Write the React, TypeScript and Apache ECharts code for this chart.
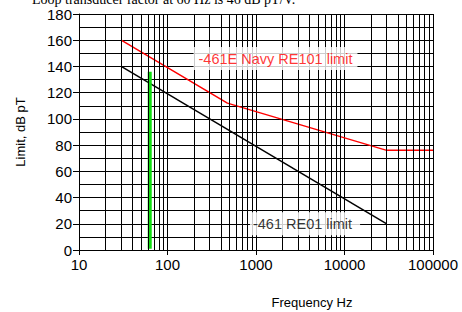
import React, { useEffect, useRef } from "react";
import * as echarts from "echarts";

const xTicks = [10, 100, 1000, 10000, 100000];
const yTicks = [0, 20, 40, 60, 80, 100, 120, 140, 160, 180];
const minorFreqs = [
  20, 30, 40, 50, 60, 70, 80, 90,
  200, 300, 400, 500, 600, 700, 800, 900,
  2000, 3000, 4000, 5000, 6000, 7000, 8000, 9000,
  20000, 30000, 40000, 50000, 60000, 70000, 80000, 90000,
];
const re01Freq = [30, 30000];
const re01Limit = [140, 20];
const re101Freq = [30, 475, 30000, 100000];
const re101Limit = [160, 112, 76, 76];
const markerFreq = [63, 63];
const markerLevel = [1, 136];
const labelTexts = ["-461E Navy RE101 limit", "-461 RE01 limit"];
const labelFreq = [1660, 3580];
const labelLevel = [146, 20];

export default function App() {
  const ref = useRef<HTMLDivElement>(null);
  useEffect(() => {
    document.body.style.margin = "0";
    const chart = echarts.init(ref.current!, null, { renderer: "svg" });
    const font = "Liberation Sans, Arial, sans-serif";
    chart.setOption({
      animation: false,
      backgroundColor: "#fff",
      grid: { left: 79, top: 14, width: 354, height: 236 },
      graphic: [
        {
          type: "text",
          left: 32,
          top: -8,
          style: {
            text: "Loop transducer factor at 60 Hz is 46 dB pT/V.",
            font: "14px 'Liberation Serif', serif",
            fill: "#000",
          },
        },
        {
          type: "text",
          x: 312,
          y: 302,
          style: {
            text: "Frequency Hz",
            font: "13px 'Liberation Sans', Arial, sans-serif",
            fill: "#000",
            align: "center",
            verticalAlign: "middle",
          },
        },
      ],
      xAxis: {
        type: "log",
        logBase: 10,
        min: xTicks[0],
        max: xTicks[xTicks.length - 1],
        axisLine: { lineStyle: { color: "#000", width: 1 } },
        axisTick: { show: true, length: 5, lineStyle: { color: "#000" } },
        axisLabel: {
          color: "#000",
          fontSize: 15,
          fontFamily: font,
          margin: 7,
          formatter: (v: number) => String(Math.round(v)),
        },
        splitLine: { show: true, lineStyle: { color: "#000", width: 1 } },
        minorTick: { show: false },
      },
      yAxis: {
        type: "value",
        min: yTicks[0],
        max: yTicks[yTicks.length - 1],
        interval: 20,
        name: "Limit, dB pT",
        nameLocation: "middle",
        nameGap: 52,
        nameTextStyle: { color: "#000", fontSize: 13, fontFamily: font },
        axisLine: { show: true, lineStyle: { color: "#000", width: 1 } },
        axisTick: { show: true, length: 6, lineStyle: { color: "#000" } },
        axisLabel: { color: "#000", fontSize: 15, fontFamily: font, margin: 7 },
        splitLine: { show: true, lineStyle: { color: "#000", width: 1 } },
        minorTick: { show: false, splitNumber: 2 },
        minorSplitLine: { show: true, lineStyle: { color: "#000", width: 1 } },
      },
      series: [
        {
          type: "line",
          data: [],
          z: 1,
          silent: true,
          markLine: {
            silent: true,
            symbol: "none",
            label: { show: false },
            lineStyle: { color: "#000", width: 1, type: "solid" },
            data: minorFreqs.map((f) => ({ xAxis: f })),
          },
        },
        {
          type: "line",
          z: 3,
          data: re01Freq.map((f, i) => [f, re01Limit[i]]),
          showSymbol: false,
          lineStyle: { color: "#000", width: 1.5 },
        },
        {
          type: "line",
          z: 3,
          data: re101Freq.map((f, i) => [f, re101Limit[i]]),
          showSymbol: false,
          lineStyle: { color: "#ff0000", width: 1.5 },
        },
        {
          type: "line",
          z: 3,
          data: markerFreq.map((f, i) => [f, markerLevel[i]]),
          showSymbol: false,
          lineStyle: { color: "#11e011", width: 4, cap: "butt" },
        },
        {
          type: "scatter",
          z: 5,
          symbolSize: 0,
          data: labelTexts.map((t, i) => ({
            value: [labelFreq[i], labelLevel[i]],
            name: t,
            label: {
              color: i === 0 ? "#ff0000" : "#000",
              padding: i === 0 ? [4, 5, 4, 5] : [4, 8, 4, 3],
            },
          })),
          label: {
            show: true,
            position: "inside",
            formatter: (p: any) => p.name,
            fontSize: 14.5,
            fontFamily: font,
            backgroundColor: "#fff",
          },
        },
      ],
    });
    return () => chart.dispose();
  }, []);
  return <div ref={ref} style={{ width: 462, height: 312 }} />;
}
